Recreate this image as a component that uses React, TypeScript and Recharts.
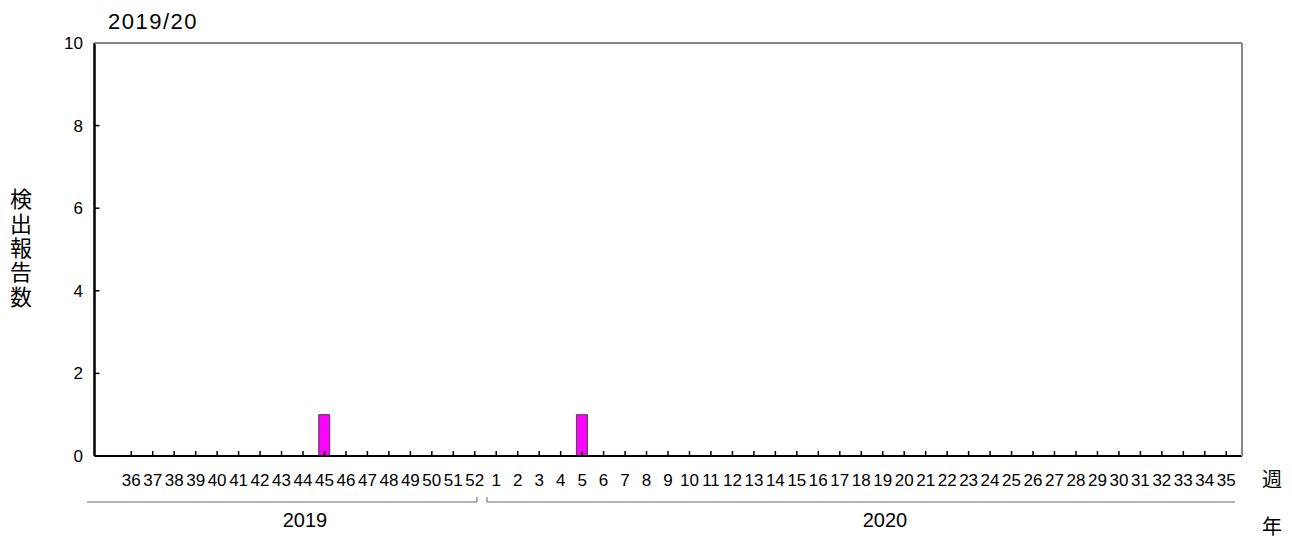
import React from "react";
import { BarChart, Bar, XAxis, YAxis } from "recharts";

// weeks 36-52 of 2019, then 1-35 of 2020
const weeks2019 = [36, 37, 38, 39, 40, 41, 42, 43, 44, 45, 46, 47, 48, 49, 50, 51, 52];
const weeks2020 = [
  1, 2, 3, 4, 5, 6, 7, 8, 9, 10, 11, 12, 13, 14, 15, 16, 17, 18, 19, 20,
  21, 22, 23, 24, 25, 26, 27, 28, 29, 30, 31, 32, 33, 34, 35,
];
const counts2019 = [0, 0, 0, 0, 0, 0, 0, 0, 0, 1, 0, 0, 0, 0, 0, 0, 0];
const counts2020 = [
  0, 0, 0, 0, 1, 0, 0, 0, 0, 0, 0, 0, 0, 0, 0, 0, 0, 0, 0, 0,
  0, 0, 0, 0, 0, 0, 0, 0, 0, 0, 0, 0, 0, 0, 0,
];
const yTicks = [0, 2, 4, 6, 8, 10];
const title = "2019/20";
const yLabel = "検出報告数";

const data = [
  ...weeks2019.map((w, i) => ({ week: String(w), count: counts2019[i] })),
  ...weeks2020.map((w, i) => ({ week: String(w), count: counts2020[i] })),
];

const W = 1292;
const H = 542;
const PLOT_LEFT = 94.5;
const PLOT_RIGHT = 1242;
const PLOT_TOP = 43;
const PLOT_BOTTOM = 456;
const FONT = "'Liberation Sans', Arial, sans-serif";
const CJK = "'Noto Sans CJK JP', sans-serif";

export default function App() {
  return (
    <div style={{ position: "absolute", left: 0, top: 0, width: W, height: H, background: "#fff" }}>
      <BarChart
        width={W}
        height={H}
        data={data}
        margin={{ top: PLOT_TOP, right: W - PLOT_RIGHT, left: 0, bottom: H - PLOT_BOTTOM - 40 }}
      >
        <XAxis
          dataKey="week"
          interval={0}
          height={40}
          padding={{ left: 26, right: 5 }}
          tickSize={-5}
          tickMargin={23}
          tick={{ fontSize: 17, fill: "#000", fontFamily: FONT }}
          axisLine={{ stroke: "#000", strokeWidth: 2 }}
          tickLine={{ stroke: "#000", strokeWidth: 1.5 }}
        />
        <YAxis
          width={PLOT_LEFT}
          domain={[0, 10]}
          ticks={yTicks}
          interval={0}
          tickSize={-5}
          tickMargin={16.5}
          tick={{ fontSize: 17, fill: "#000", fontFamily: FONT }}
          axisLine={{ stroke: "#000", strokeWidth: 2.5 }}
          tickLine={{ stroke: "#000", strokeWidth: 1.5 }}
        />
        <Bar
          dataKey="count"
          barSize={11}
          fill="#ff00ff"
          stroke="#444"
          strokeWidth={1}
          isAnimationActive={false}
        />
      </BarChart>
      <svg
        width={W}
        height={H}
        style={{ position: "absolute", left: 0, top: 0, pointerEvents: "none" }}
      >
        {/* grey frame top and right */}
        <line x1={PLOT_LEFT} y1={PLOT_TOP} x2={PLOT_RIGHT} y2={PLOT_TOP} stroke="#888" strokeWidth={2} />
        <line x1={PLOT_RIGHT} y1={PLOT_TOP} x2={PLOT_RIGHT} y2={PLOT_BOTTOM} stroke="#888" strokeWidth={2} />
        <text x={108} y={29} fontSize={22} fontFamily={FONT} fill="#000" letterSpacing={1.5}>
          {title}
        </text>
        <text
          x={21}
          y={188}
          fontSize={22}
          fontFamily={CJK}
          letterSpacing={2.3}
          fill="#000"
          style={{ writingMode: "vertical-rl", textOrientation: "upright" }}
        >
          {yLabel}
        </text>
        <text x={1272} y={478} fontSize={20} fontFamily={CJK} textAnchor="middle" dominantBaseline="central" fill="#000">
          週
        </text>
        <text x={1272} y={525} fontSize={20} fontFamily={CJK} textAnchor="middle" dominantBaseline="central" fill="#000">
          年
        </text>
        {/* year brackets */}
        <polyline points="87,502 477,502 477,497" fill="none" stroke="#666" strokeWidth={1} />
        <polyline points="487,497 487,502 1235,502" fill="none" stroke="#666" strokeWidth={1} />
        <text x={305} y={527} fontSize={20} fontFamily={FONT} textAnchor="middle" fill="#000">
          2019
        </text>
        <text x={885} y={527} fontSize={20} fontFamily={FONT} textAnchor="middle" fill="#000">
          2020
        </text>
      </svg>
    </div>
  );
}
